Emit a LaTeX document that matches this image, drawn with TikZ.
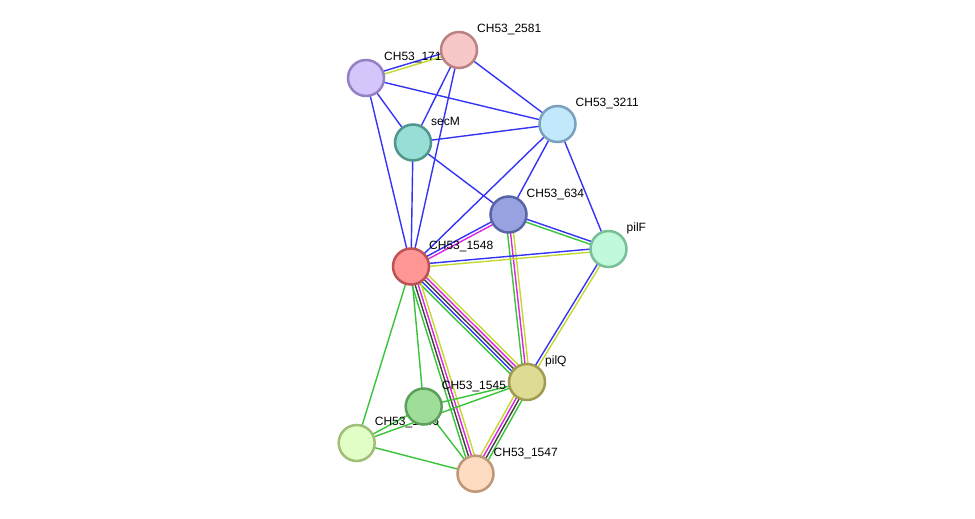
\documentclass[tikz,border=0pt]{standalone}
\usepackage{fontspec}
\setmainfont{Liberation Sans}
\usetikzlibrary{calc}
\pgfdeclarelayer{bg}
\pgfdeclarelayer{edges}
\pgfdeclarelayer{labels}
\pgfsetlayers{bg,edges,labels,main}
\definecolor{eblue}{RGB}{52,52,245}
\definecolor{egreen}{RGB}{56,196,56}
\definecolor{eyg}{RGB}{196,216,48}
\definecolor{emag}{RGB}{222,36,222}
\definecolor{egray}{RGB}{64,64,64}
\tikzset{
  prot/.style={circle,draw,line width=2.5pt,minimum size=36pt,inner sep=0pt},
  lab/.style={anchor=base west,inner sep=0pt,font=\fontsize{12}{14}\selectfont},
  ln/.style={line width=1.4pt}
}
\newcommand\edg[4]{\draw[ln,#3] ($(#1.center)!#4!90:(#2.center)$) -- ($(#2.center)!#4!-90:(#1.center)$);}
\newcommand\protlab[2]{\node[lab] (t#1) at ($(n#1.center)+(18,-17.5)$) {#2};}
\begin{document}
\begin{tikzpicture}[x=1pt,y=-1pt]
\begin{pgfonlayer}{bg}
\fill[white] (0,0) rectangle (975,519);
\end{pgfonlayer}
\useasboundingbox (0,0) rectangle (975,519);
% nodes
\node[prot,fill={rgb,255:red,212;green,197;blue,250},draw={rgb,255:red,150;green,128;blue,196}] (n1711) at (366,78) {};
\node[prot,fill={rgb,255:red,248;green,200;blue,200},draw={rgb,255:red,188;green,130;blue,130}] (n2581) at (459,50) {};
\node[prot,fill={rgb,255:red,194;green,232;blue,252},draw={rgb,255:red,122;green,162;blue,190}] (n3211) at (557.5,124) {};
\node[prot,fill={rgb,255:red,150;green,222;blue,214},draw={rgb,255:red,80;green,150;blue,140}] (nsecM) at (413,142.5) {};
\node[prot,fill={rgb,255:red,152;green,162;blue,224},draw={rgb,255:red,88;green,100;blue,168}] (n634) at (508.5,214.5) {};
\node[prot,fill={rgb,255:red,193;green,249;blue,219},draw={rgb,255:red,120;green,190;blue,150}] (npilF) at (608.5,249) {};
\node[prot,fill={rgb,255:red,255;green,150;blue,150},draw={rgb,255:red,190;green,82;blue,82}] (n1548) at (411,266.5) {};
\node[prot,fill={rgb,255:red,222;green,219;blue,148},draw={rgb,255:red,160;green,155;blue,80}] (npilQ) at (527,382) {};
\node[prot,fill={rgb,255:red,158;green,222;blue,152},draw={rgb,255:red,92;green,160;blue,92}] (n1545) at (423.7,406.5) {};
\node[prot,fill={rgb,255:red,225;green,254;blue,198},draw={rgb,255:red,160;green,190;blue,120}] (n1546) at (356.7,443) {};
\node[prot,fill={rgb,255:red,253;green,220;blue,193},draw={rgb,255:red,190;green,150;blue,120}] (n1547) at (475.5,473.7) {};
% labels
\begin{pgfonlayer}{labels}
\protlab{1711}{CH53\_1711}
\protlab{2581}{CH53\_2581}
\protlab{3211}{CH53\_3211}
\protlab{secM}{secM}
\protlab{634}{CH53\_634}
\protlab{pilF}{pilF}
\protlab{1548}{CH53\_1548}
\protlab{pilQ}{pilQ}
\protlab{1545}{CH53\_1545}
\protlab{1546}{CH53\_1546}
\protlab{1547}{CH53\_1547}
\end{pgfonlayer}
% edges
\begin{pgfonlayer}{edges}
\edg{n1711}{n2581}{eblue}{1.5pt}
\edg{n1711}{n2581}{eyg}{-1.5pt}
\edg{n1711}{n3211}{eblue}{0pt}
\edg{n1711}{nsecM}{eblue}{0pt}
\edg{n1711}{n1548}{eblue}{0pt}
\edg{n2581}{nsecM}{eblue}{0pt}
\edg{n2581}{n1548}{eblue}{0pt}
\edg{n2581}{n3211}{eblue}{0pt}
\edg{nsecM}{n3211}{eblue}{0pt}
\edg{nsecM}{n1548}{eblue}{0pt}
\edg{nsecM}{n634}{eblue}{0pt}
\edg{n3211}{n1548}{eblue}{0pt}
\edg{n3211}{n634}{eblue}{0pt}
\edg{n3211}{npilF}{eblue}{0pt}
\edg{n1548}{n634}{eblue}{1.5pt}
\edg{n1548}{n634}{emag}{-1.5pt}
\edg{n634}{npilF}{eblue}{1.5pt}
\edg{n634}{npilF}{egreen}{-1.5pt}
\edg{n634}{npilQ}{egreen}{-3pt}
\edg{n634}{npilQ}{emag}{0pt}
\edg{n634}{npilQ}{eyg}{3pt}
\edg{n1548}{npilF}{eblue}{1.5pt}
\edg{n1548}{npilF}{eyg}{-1.5pt}
\edg{npilF}{npilQ}{eblue}{-1.5pt}
\edg{npilF}{npilQ}{eyg}{1.5pt}
\edg{n1548}{npilQ}{eyg}{6pt}
\edg{n1548}{npilQ}{emag}{3pt}
\edg{n1548}{npilQ}{egray}{0pt}
\edg{n1548}{npilQ}{eblue}{-3pt}
\edg{n1548}{npilQ}{egreen}{-6pt}
\edg{n1548}{n1547}{egreen}{-4.5pt}
\edg{n1548}{n1547}{egray}{-1.5pt}
\edg{n1548}{n1547}{emag}{1.5pt}
\edg{n1548}{n1547}{eyg}{4.5pt}
\edg{npilQ}{n1547}{eyg}{-4.5pt}
\edg{npilQ}{n1547}{emag}{-1.5pt}
\edg{npilQ}{n1547}{egray}{1.5pt}
\edg{npilQ}{n1547}{egreen}{4.5pt}
\edg{n1548}{n1545}{egreen}{0pt}
\edg{n1548}{n1546}{egreen}{0pt}
\edg{n1545}{npilQ}{egreen}{0pt}
\edg{n1546}{npilQ}{egreen}{0pt}
\edg{n1545}{n1546}{egreen}{0pt}
\edg{n1545}{n1547}{egreen}{0pt}
\edg{n1546}{n1547}{egreen}{0pt}
\end{pgfonlayer}
\end{tikzpicture}
\end{document}
